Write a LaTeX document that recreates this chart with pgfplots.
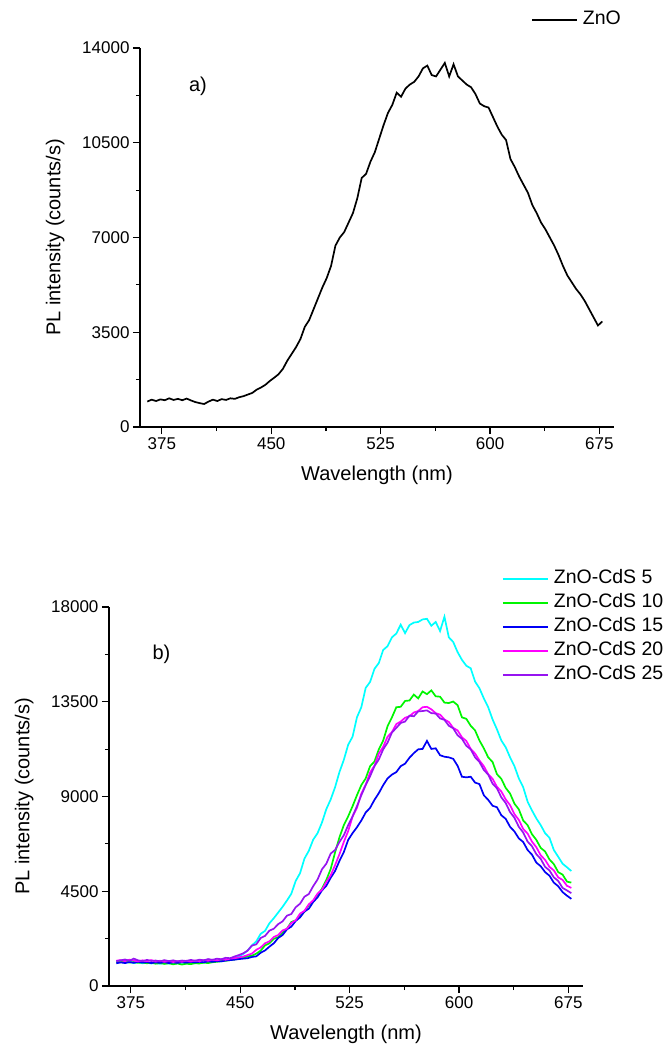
\documentclass[border=0pt]{standalone}
\usepackage{pgfplots}
\pgfplotsset{compat=1.18}
\usepackage{pgfplotstable}
\usepackage{fontspec}
\setmainfont{Liberation Sans}

\definecolor{cZ}{RGB}{0,0,0}
\definecolor{cA}{RGB}{0,255,255}
\definecolor{cB}{RGB}{0,245,0}
\definecolor{cC}{RGB}{0,0,245}
\definecolor{cD}{RGB}{255,0,255}
\definecolor{cE}{RGB}{150,20,240}

\pgfplotstableread{
x y
365 940
368 1010
371 960
374 1020
377 990
380 1060
383 1000
386 1040
389 990
392 1050
395 980
398 920
401 880
404 850
407 940
410 1010
413 960
416 1030
419 1000
422 1060
425 1040
428 1100
431 1140
434 1200
437 1260
440 1380
443 1460
446 1560
449 1700
452 1820
455 1950
458 2150
461 2450
464 2700
467 2950
470 3250
473 3700
476 3950
479 4350
482 4750
485 5150
488 5500
491 5950
494 6700
497 7000
500 7200
503 7550
506 7900
509 8450
512 9200
515 9350
518 9800
521 10150
524 10650
527 11150
530 11600
533 11900
536 12350
539 12200
542 12500
545 12650
548 12750
551 12950
554 13250
557 13350
560 13000
563 12950
566 13200
569 13450
572 12950
575 13400
578 12950
581 12800
584 12650
587 12550
590 12300
593 11950
596 11850
599 11800
602 11450
605 11100
608 10800
611 10600
614 9900
617 9600
620 9250
623 8950
626 8650
629 8200
632 7900
635 7550
638 7300
641 7000
644 6700
647 6350
650 5950
653 5600
656 5350
659 5100
662 4900
665 4650
668 4350
671 4050
674 3750
677 3900
}\znodata

\pgfplotstableread{
x c5 c10 c15 c20 c25
365 1120 1150 1080 1200 1180
368 1180 1130 1120 1230 1220
371 1100 1170 1090 1180 1260
374 1150 1110 1140 1250 1200
377 1090 1140 1100 1210 1300
380 1130 1100 1150 1170 1220
383 1080 1120 1110 1220 1180
386 1110 1080 1130 1180 1240
389 1070 1110 1090 1230 1190
392 1100 1060 1120 1160 1210
395 1060 1090 1100 1200 1170
398 1090 1050 1130 1150 1230
401 1070 1080 1090 1190 1180
404 1100 1030 1120 1140 1220
407 1080 1070 1100 1180 1170
410 1110 1020 1130 1150 1210
413 1090 1060 1110 1200 1190
416 1120 1040 1140 1160 1240
419 1100 1080 1120 1210 1200
422 1140 1070 1150 1180 1250
425 1120 1110 1130 1230 1220
428 1160 1090 1170 1200 1280
431 1140 1130 1150 1250 1240
434 1190 1150 1180 1220 1300
437 1170 1180 1170 1270 1270
440 1230 1200 1210 1250 1340
443 1260 1230 1230 1300 1320
446 1320 1260 1250 1320 1400
449 1400 1300 1280 1360 1470
452 1520 1340 1300 1400 1550
455 1680 1410 1320 1470 1680
458 1930 1440 1380 1540 1920
461 2120 1540 1410 1720 1980
464 2480 1680 1580 1830 2280
467 2620 1930 1690 2030 2380
470 2980 2030 1870 2120 2630
473 3220 2240 2030 2330 2720
476 3490 2320 2280 2420 2940
479 3760 2540 2420 2640 3070
482 4060 2720 2690 2720 3340
485 4380 3040 2820 2990 3420
488 4990 3120 3090 3120 3740
491 5360 3340 3260 3440 3910
494 6050 3520 3540 3570 4240
497 6420 3840 3670 3880 4370
500 6950 4020 3990 4070 4740
503 7260 4340 4210 4390 5060
506 7760 4620 4540 4570 5540
509 8400 5040 4760 4940 5810
512 8860 5560 5140 5260 6290
515 9440 6340 5460 5740 6460
518 10160 7060 5940 6260 6840
521 10740 7640 6360 6840 7160
524 11460 8060 6940 7360 7640
527 11840 8540 7260 8040 8060
530 12760 9060 7540 8460 8540
533 13240 9540 7860 9140 9060
536 14160 9860 8240 9560 9540
539 14440 10440 8460 10140 9960
542 15060 10660 8840 10460 10440
545 15340 11240 9160 11040 10760
548 15960 11660 9540 11360 11240
551 16140 12340 9860 11840 11560
554 16560 12760 10040 12060 12040
557 16740 13240 10160 12440 12260
560 17160 13260 10440 12560 12490
563 16760 13540 10560 12740 12560
566 17140 13560 10840 12810 12840
569 17260 13840 11060 12990 12810
572 17290 13660 11240 13060 13040
575 17410 13990 11260 13240 13060
578 17440 13860 11640 13260 13090
581 17110 14040 11260 13140 12960
584 17290 13760 11290 12960 12940
587 16860 13740 10960 12890 12710
590 17540 13460 10890 12660 12640
593 16560 13440 10860 12540 12360
596 16340 13510 10790 12260 12240
599 15860 13340 10460 12140 11910
602 15490 12760 9940 11810 11740
605 15210 12690 9910 11640 11410
608 15090 12360 9940 11260 11240
611 14460 12140 9660 11040 10860
614 14140 11660 9590 10710 10640
617 13660 11290 9060 10440 10260
620 13240 10860 8840 10060 10040
623 12660 10640 8560 9840 9610
626 12190 10060 8490 9460 9390
629 11660 9840 8110 9240 8960
632 11340 9410 7940 8860 8690
635 10860 9140 7560 8590 8260
638 10440 8660 7340 8160 7990
641 9860 8390 7010 7890 7560
644 9440 7860 6840 7460 7290
647 8760 7640 6460 7240 6860
650 8340 7210 6240 6860 6640
653 7960 6940 5860 6590 6260
656 7640 6560 5690 6210 6040
659 7260 6390 5410 5990 5660
662 7040 6010 5240 5660 5490
665 6460 5790 4910 5490 5160
668 6140 5410 4740 5160 4990
671 5810 5290 4460 5040 4660
674 5640 4960 4290 4760 4540
677 5460 4910 4140 4660 4410
}\cdsdata

\pgfplotsset{
  myaxis/.style={
    scale only axis, width=474pt, height=379pt,
    axis lines*=left, axis line style={line width=1.3pt,-},
    tick align=outside, major tick length=7pt, minor tick length=4pt,
    every tick/.style={line width=1.2pt, black},
    xmin=360, xmax=685, xtick={375,450,...,675}, minor x tick num=1,
    minor y tick num=1,
    ymin=0, scaled y ticks=false, scaled x ticks=false,
    ticklabel style={font=\fontsize{17}{17}\selectfont},
    /pgf/number format/assume math mode=true,
    /pgf/number format/set thousands separator={},
    xlabel={Wavelength (nm)}, ylabel={PL intensity (counts/s)},
    label style={font=\fontsize{20}{20}\selectfont},
    x label style={at={(axis description cs:0.5,-0.128)}, anchor=center},
    y label style={at={(axis description cs:-0.179,0.5)}, anchor=center},
    legend style={draw=none, fill=none, font=\fontsize{19.5}{19.5}\selectfont,
      inner sep=0pt, column sep=5pt, row sep=6.5pt,
      nodes={inner sep=0pt, text height=13.5pt, text depth=4pt}},
    legend cell align=left,
    legend image code/.code={\draw[##1] (0pt,0pt) -- (45pt,0pt);},
  }
}

\begin{document}
\begin{tikzpicture}
\useasboundingbox (0pt,0pt) rectangle (664pt,-1045pt);
\begin{axis}[myaxis, at={(140pt,-427pt)}, anchor=south west,
  ymax=14000, ytick={0,3500,...,14000},
  legend style={at={(axis description cs:0.825,1.074)}, anchor=west}]
\addplot[cZ, line width=1.7pt] table[x=x,y=y] {\znodata};
\addlegendentry{ZnO}
\node[font=\fontsize{20}{20}\selectfont] at (axis cs:399.7,12600) {a)};
\end{axis}
\begin{axis}[myaxis, at={(109pt,-986pt)}, anchor=south west,
  ymax=18000, ytick={0,4500,...,18000},
  legend style={at={(axis description cs:0.829,1.097)}, anchor=north west}]
\addplot[cA, line width=1.7pt] table[x=x,y=c5] {\cdsdata};
\addlegendentry{ZnO-CdS 5}
\addplot[cB, line width=1.7pt] table[x=x,y=c10] {\cdsdata};
\addlegendentry{ZnO-CdS 10}
\addplot[cC, line width=1.7pt] table[x=x,y=c15] {\cdsdata};
\addlegendentry{ZnO-CdS 15}
\addplot[cD, line width=1.7pt] table[x=x,y=c20] {\cdsdata};
\addlegendentry{ZnO-CdS 20}
\addplot[cE, line width=1.7pt] table[x=x,y=c25] {\cdsdata};
\addlegendentry{ZnO-CdS 25}
\node[font=\fontsize{20}{20}\selectfont] at (axis cs:396,15770) {b)};
\end{axis}
\end{tikzpicture}
\end{document}
